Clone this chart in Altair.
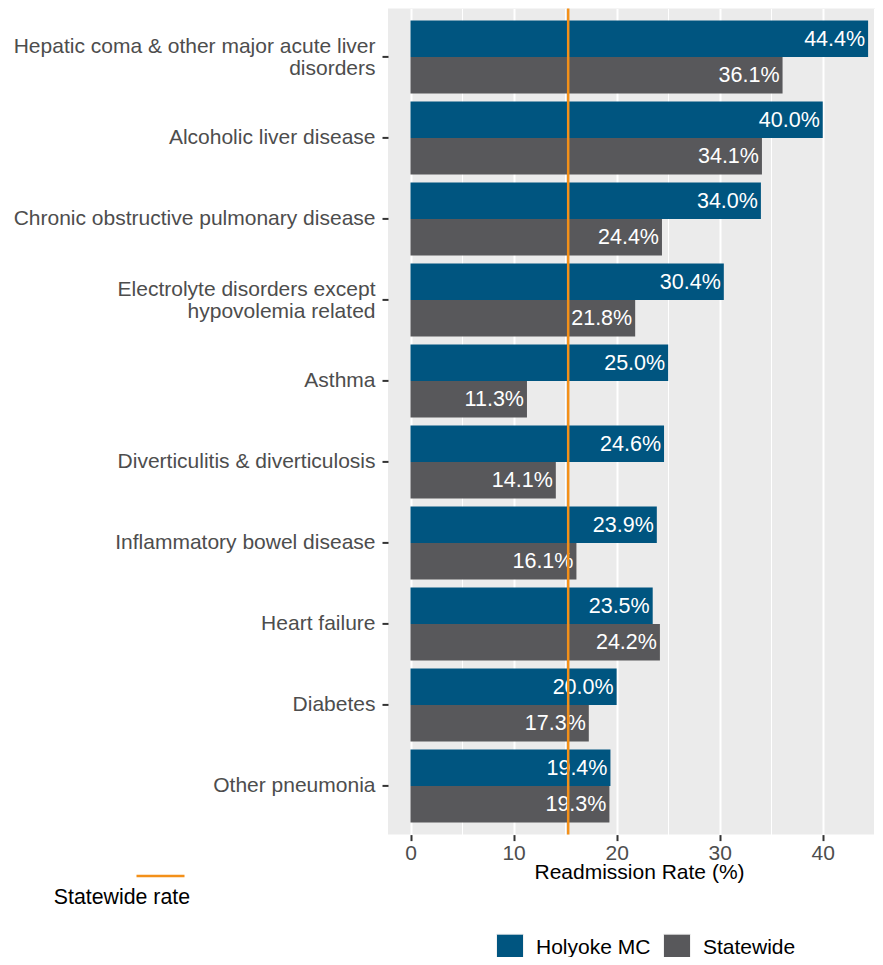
import altair as alt
import pandas as pd

categories = [
    "Hepatic coma & other major acute liver\ndisorders",
    "Alcoholic liver disease",
    "Chronic obstructive pulmonary disease",
    "Electrolyte disorders except\nhypovolemia related",
    "Asthma",
    "Diverticulitis & diverticulosis",
    "Inflammatory bowel disease",
    "Heart failure",
    "Diabetes",
    "Other pneumonia",
]
holyoke = [44.4, 40.0, 34.0, 30.4, 25.0, 24.6, 23.9, 23.5, 20.0, 19.4]
statewide = [36.1, 34.1, 24.4, 21.8, 11.3, 14.1, 16.1, 24.2, 17.3, 19.3]
series_names = ["Holyoke MC", "Statewide"]
series_colors = ["#005580", "#58585B"]
statewide_rate = 15.3
major_ticks = [0, 10, 20, 30, 40]
minor_ticks = [5, 15, 25, 35, 45]

rows = []
for c, h, s in zip(categories, holyoke, statewide):
    rows.append({"category": c, "series": series_names[0], "value": h})
    rows.append({"category": c, "series": series_names[1], "value": s})
df = pd.DataFrame(rows)
rate_df = pd.DataFrame({"label": ["Statewide rate"], "rate": [statewide_rate]})

FONT = "Liberation Sans"
xscale = alt.Scale(domain=[-2.184, 45.07], nice=False, zero=False)
yscale = alt.Scale(domain=categories, paddingInner=0.1, paddingOuter=0.15)
offscale = alt.Scale(domain=series_names, paddingInner=0, paddingOuter=0)

base = alt.Chart(df)

bars = base.mark_bar().encode(
    x=alt.X("value:Q", scale=xscale,
            axis=alt.Axis(orient="bottom", values=major_ticks, grid=True, gridColor="white", gridWidth=2,
                          domain=False, tickColor="#333333", tickSize=6, tickWidth=2,
                          labelColor="#4D4D4D", labelFontSize=21, labelFont=FONT, labelPadding=2,
                          title="Readmission Rate (%)", titleFont=FONT, titleFontSize=21,
                          titleFontWeight="normal", titleColor="black",
                          titleX=251, titleY=44, titleBaseline="alphabetic", titleAlign="center")),
    y=alt.Y("category:N", scale=yscale, sort=categories,
            axis=alt.Axis(title=None, domain=False, tickColor="#333333", tickSize=6, tickWidth=2,
                          labelColor="#4D4D4D", labelFontSize=21, labelFont=FONT, labelPadding=7,
                          labelLineHeight=22, labelLimit=500,
                          labelOffset={"condition": {"test": "indexof(datum.value, '\\n') >= 0",
                                                     "value": -10}, "value": 0},
                          labelExpr="split(datum.label, '\\n')")),
    yOffset=alt.YOffset("series:N", scale=offscale, sort=series_names),
    fill=alt.Fill("series:N", scale=alt.Scale(domain=series_names, range=series_colors),
                  legend=alt.Legend(title=None, orient="none", direction="horizontal",
                                    legendX=108, legendY=925, padding=0,
                                    symbolType="square", symbolSize=729,
                                    symbolStrokeColor="#F2F2F2", symbolStrokeWidth=1,
                                    labelFont=FONT, labelFontSize=21, labelColor="black",
                                    labelOffset=12, columnPadding=10)),
)

minor = base.mark_bar(opacity=0).encode(
    x=alt.X("value:Q", scale=xscale,
            axis=alt.Axis(orient="top", values=minor_ticks, grid=True, gridColor="white", gridWidth=1,
                          domain=False, ticks=False, labels=False, title=None)),
    y=alt.Y("category:N", scale=yscale, sort=categories),
)

texts = base.transform_calculate(
    lbl="format(datum.value, '.1f') + '%'"
).mark_text(align="right", baseline="middle", dx=-3, dy=1, color="white",
            font=FONT, fontSize=21.5).encode(
    x=alt.X("value:Q", scale=xscale, axis=None),
    y=alt.Y("category:N", scale=yscale, sort=categories),
    yOffset=alt.YOffset("series:N", scale=offscale, sort=series_names),
    text="lbl:N",
)

rule = alt.Chart(rate_df).mark_rule(strokeWidth=2.5).encode(
    x=alt.X("rate:Q", scale=xscale, axis=None),
    stroke=alt.Stroke("label:N", scale=alt.Scale(domain=["Statewide rate"], range=["#F39019"]),
                      legend=alt.Legend(title="Statewide rate", titleOrient="bottom",
                                        titleAnchor="end", titleAlign="right",
                                        titleFont=FONT, titleFontSize=21.3, titleFontWeight="normal",
                                        titleColor="black", titlePadding=6,
                                        labelExpr="''", labelOffset=0,
                                        orient="none", legendX=-334, legendY=842, padding=0,
                                        symbolType="stroke", symbolSize=2304,
                                        symbolStrokeWidth=2.5)),
)

chart = alt.layer(minor, bars, texts, rule).resolve_axis(x="independent").properties(
    width=487,
    height=826.2,
    padding={"left": 380, "top": 0.4, "right": 0, "bottom": 122.4},
    autosize=alt.AutoSizeParams(type="none"),
).configure(font=FONT).configure_view(fill="#EBEBEB", strokeWidth=0)

chart.save("out.html", embed_options={"renderer": "svg", "actions": False})
